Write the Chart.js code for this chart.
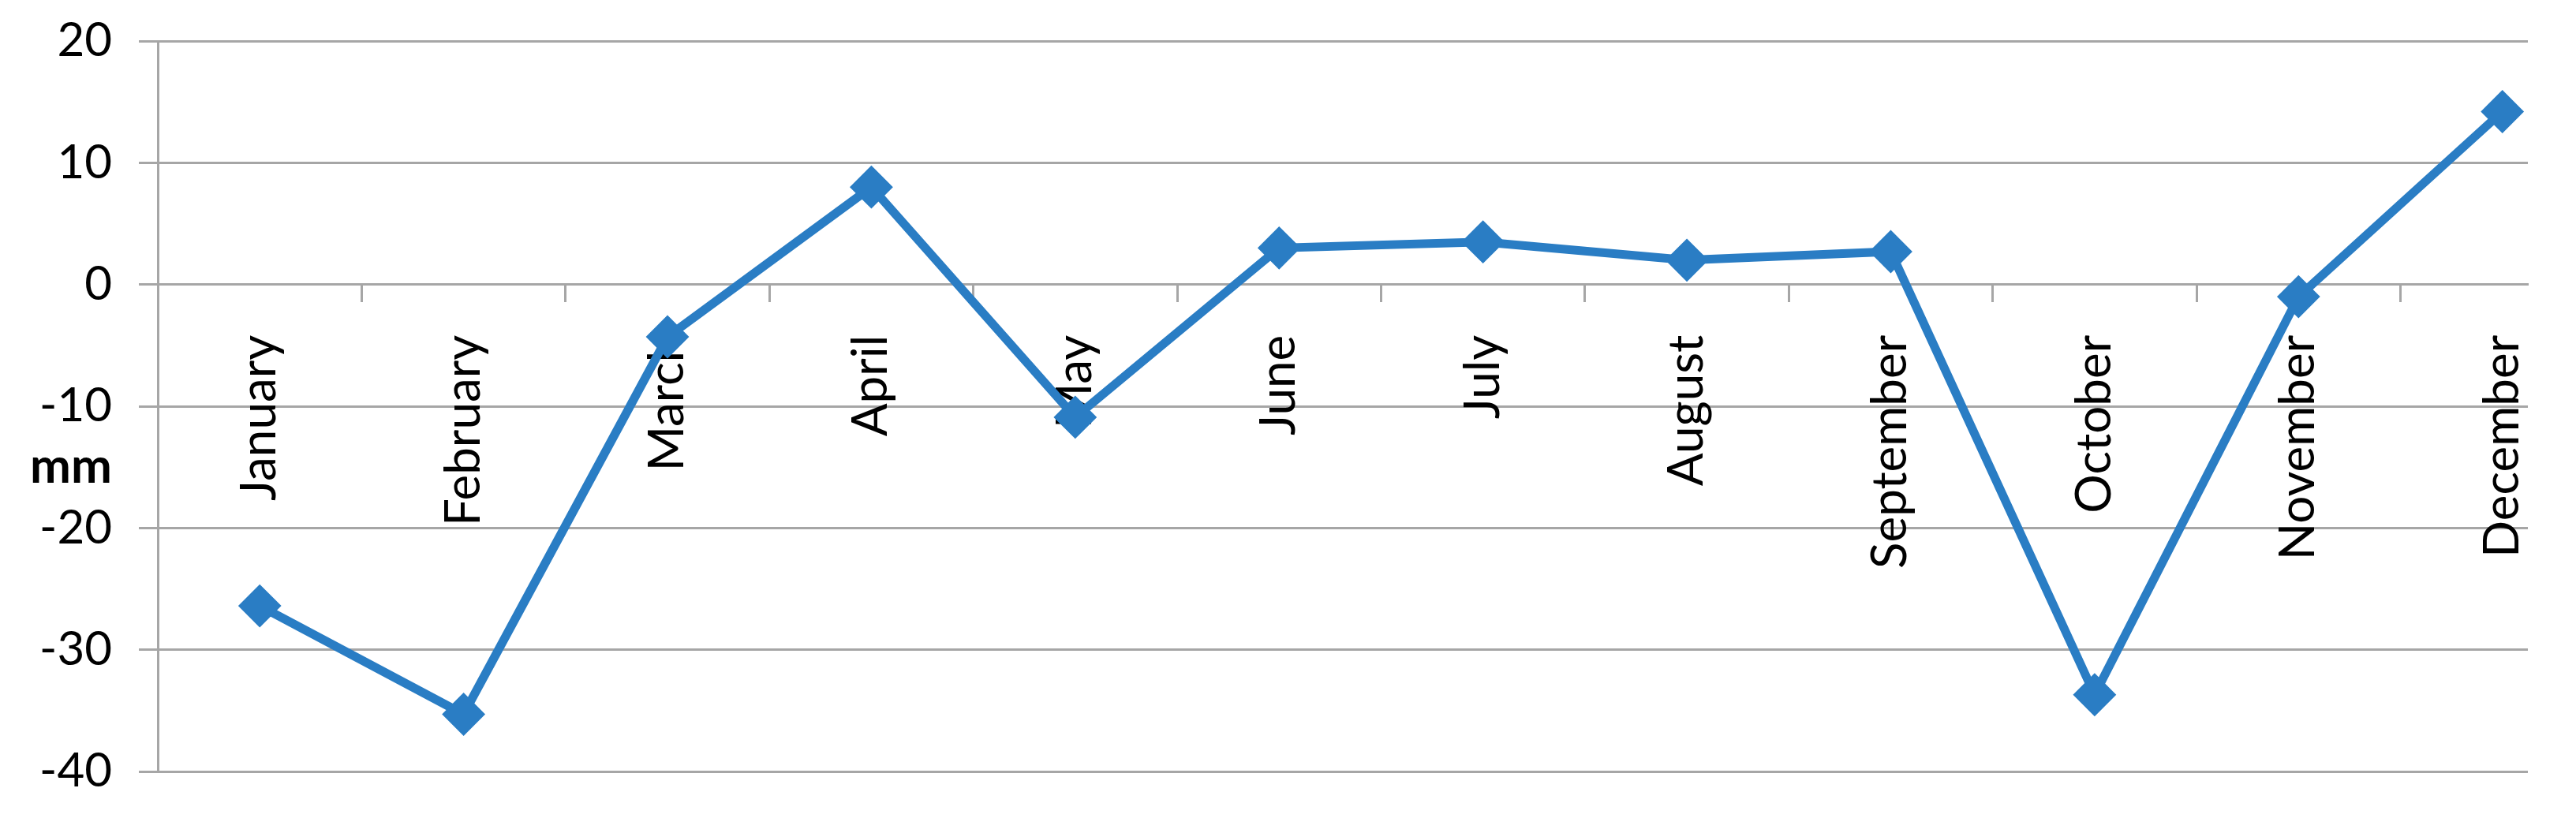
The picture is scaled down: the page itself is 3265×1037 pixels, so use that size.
<!DOCTYPE html>
<html><head><meta charset="utf-8">
<script src="https://cdn.jsdelivr.net/npm/chart.js@4/dist/chart.umd.min.js"></script>
<style>html,body{margin:0;padding:0;background:#fff;overflow:hidden}</style>
</head><body>
<canvas id="c" width="3265" height="1037" style="width:3265px;height:1037px;display:block"></canvas>
<script>
const months = ['January','February','March','April','May','June','July','August','September','October','November','December'];
const values = [-26.4, -35.3, -4.3, 8.0, -10.9, 3.0, 3.5, 2.0, 2.7, -33.7, -1.0, 14.2];
const yTicks = [20, 10, 0, -10, -20, -30, -40];
const yTitle = 'mm';

const GRID = '#a6a6a6';
const BLUE = '#2a7dc4';
const FONT = 'Lato';

const titlePlugin = {
  id: 'mmTitle',
  afterDraw(chart) {
    const ctx = chart.ctx;
    const y = chart.scales.y.getPixelForValue(-15);
    ctx.save();
    ctx.font = 'bold 62px ' + FONT;
    ctx.fillStyle = '#000';
    ctx.textAlign = 'center';
    ctx.textBaseline = 'middle';
    ctx.fillText(yTitle, chart.chartArea.left - 110, y);
    ctx.restore();
  }
};

const noPad = s => { s.paddingTop = 0; s.paddingBottom = 0; s.paddingLeft = 0; s.paddingRight = 0; };

function draw() {
  new Chart(document.getElementById('c'), {
    type: 'line',
    data: {
      datasets: [{
        data: values.map((v, i) => ({x: i, y: v})),
        xAxisID: 'x', yAxisID: 'y',
        borderColor: BLUE, backgroundColor: BLUE,
        borderWidth: 11,
        pointStyle: 'rectRot', pointRadius: 26, pointBorderWidth: 2,
        pointBackgroundColor: BLUE, pointBorderColor: BLUE,
        tension: 0, clip: false
      }]
    },
    options: {
      responsive: false, animation: false, devicePixelRatio: 1,
      layout: {padding: {left: 0, top: 52, right: 61, bottom: 59}},
      plugins: {legend: {display: false}, tooltip: {enabled: false}},
      scales: {
        x: {
          type: 'linear', min: -0.5, max: 11.125, position: {y: 0},
          afterBuildTicks: s => { s.ticks = months.map((m, i) => ({value: i})); },
          afterFit: noPad,
          ticks: {autoSkip: false, minRotation: 90, maxRotation: 90, padding: 42, color: '#000',
                  font: {family: FONT, size: 62}, callback: v => months[v]},
          grid: {display: true, drawOnChartArea: false, drawTicks: true, tickLength: 22, tickColor: 'rgba(0,0,0,0)'},
          border: {display: true, color: GRID, width: 3}
        },
        x2: {
          type: 'linear', axis: 'x', min: -0.5, max: 11.125, position: {y: 0},
          afterBuildTicks: s => { s.ticks = months.slice(1).map((m, i) => ({value: i + 0.5})); },
          afterFit: noPad,
          ticks: {display: false},
          grid: {display: true, drawOnChartArea: false, drawTicks: true, tickLength: 22, tickColor: GRID, tickWidth: 3},
          border: {display: false}
        },
        y: {
          type: 'linear', min: -40, max: 20, position: 'left',
          afterBuildTicks: s => { s.ticks = yTicks.map(v => ({value: v})); },
          afterFit: s => { s.width = 200; noPad(s); },
          ticks: {padding: 34, color: '#000', font: {family: FONT, size: 60}},
          grid: {color: GRID, lineWidth: 3, drawTicks: true, tickLength: 24, tickColor: GRID},
          border: {display: true, color: GRID, width: 3}
        }
      }
    },
    plugins: [titlePlugin]
  });
}
Promise.all([document.fonts.load('62px Lato'), document.fonts.load('bold 62px Lato'), document.fonts.load('60px Lato')])
  .then(draw, draw);
</script>
</body></html>
